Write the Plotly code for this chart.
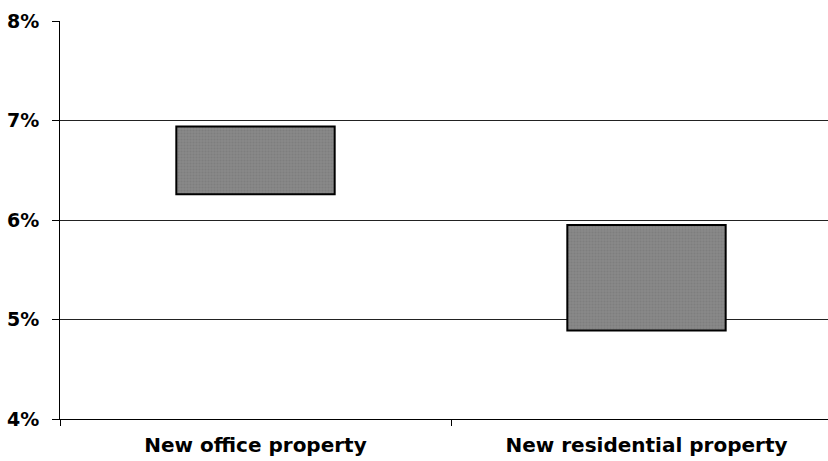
import plotly.graph_objects as go

# Yield ranges by property type (percent)
categories = ["New office property", "New residential property"]
range_low = [6.26, 4.89]
range_high = [6.94, 5.95]
y_ticks = [4, 5, 6, 7, 8]
y_tick_labels = ["4%", "5%", "6%", "7%", "8%"]

FONT = "DejaVu Sans"

fig = go.Figure(
    go.Bar(
        x=categories,
        base=range_low,
        y=[h - l for h, l in zip(range_high, range_low)],
        width=0.405,
        marker=dict(
            color="#808080",
            line=dict(color="black", width=2),
            pattern=dict(shape=".", size=3, solidity=0.35,
                         fgcolor="#747474", bgcolor="#888888"),
        ),
        hoverinfo="skip",
    )
)

fig.update_layout(
    width=828,
    height=461,
    margin=dict(l=60, r=0, t=21, b=42),
    paper_bgcolor="white",
    plot_bgcolor="white",
    showlegend=False,
    font=dict(family=FONT, color="black"),
)

fig.update_xaxes(
    range=[-0.5, -0.5 + 2 * 768 / 782],
    showline=True,
    linecolor="black",
    linewidth=1,
    ticks="outside",
    tickson="boundaries",
    ticklen=6,
    tickcolor="black",
    showgrid=False,
    tickfont=dict(family=FONT, size=20, weight="bold", color="black"),
    ticklabelstandoff=8,
)

fig.update_yaxes(
    range=[4, 8],
    tickvals=y_ticks,
    ticktext=y_tick_labels,
    showline=True,
    linecolor="black",
    linewidth=1,
    ticks="outside",
    ticklen=7,
    tickcolor="black",
    showgrid=True,
    gridcolor="#222222",
    gridwidth=1,
    zeroline=False,
    tickfont=dict(family=FONT, size=19, weight="bold", color="black"),
    ticklabelstandoff=9,
)

fig.write_html("out.html")
